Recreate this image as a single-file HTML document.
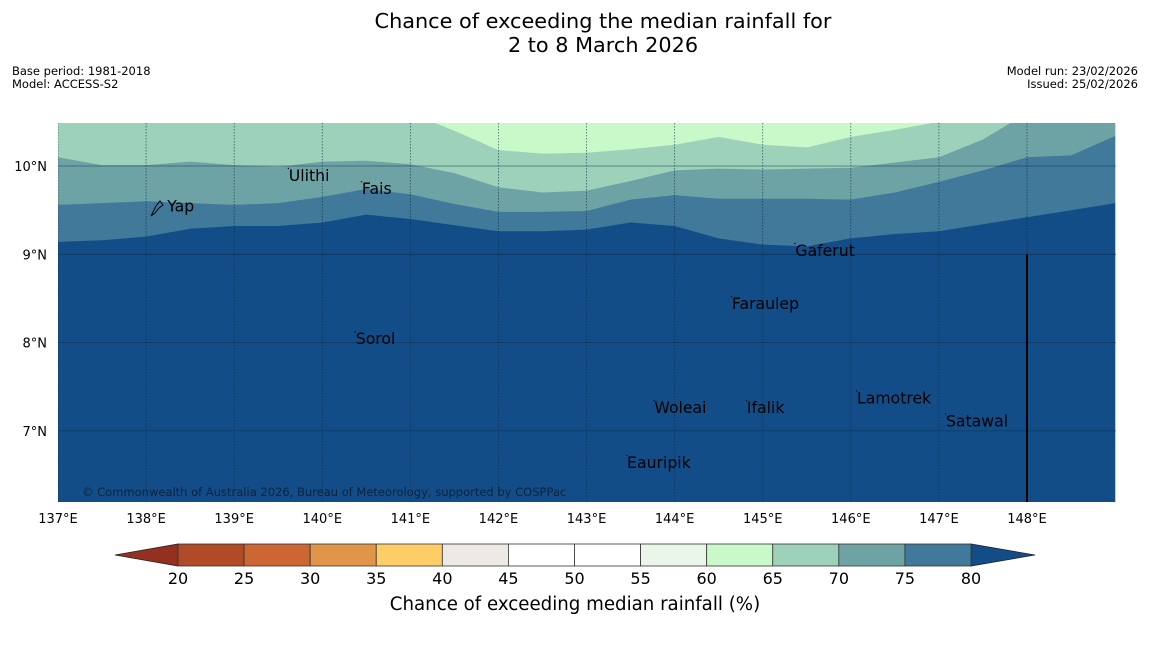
<!DOCTYPE html>
<html><head><meta charset="utf-8"><style>
body{margin:0;background:#fff;width:1150px;height:644px;overflow:hidden;font-family:"DejaVu Sans","Liberation Sans",sans-serif}
svg text{font-family:"DejaVu Sans","Liberation Sans",sans-serif}
</style></head><body>
<svg id="c" width="1150" height="644" viewBox="0 0 1150 644">
<text x="603" y="28" font-size="20.8" text-anchor="middle">Chance of exceeding the median rainfall for</text>
<text x="603" y="52" font-size="20.8" text-anchor="middle">2 to 8 March 2026</text>
<text x="12" y="75" font-size="11.5">Base period: 1981-2018</text>
<text x="12" y="88" font-size="11.5">Model: ACCESS-S2</text>
<text x="1138" y="75" font-size="11.5" text-anchor="end">Model run: 23/02/2026</text>
<text x="1138" y="88" font-size="11.5" text-anchor="end">Issued: 25/02/2026</text>
<g id="map"></g>
<g id="cb"></g>
<text x="575" y="610" font-size="18.2" text-anchor="middle">Chance of exceeding median rainfall (%)</text>
</svg>
<script>
const lons=[137,137.5,138,138.5,139,139.5,140,140.5,141,141.5,142,142.5,143,143.5,144,144.5,145,145.5,146,146.5,147,147.5,148,148.5,149];
const b80=[9.14,9.16,9.20,9.29,9.32,9.32,9.36,9.45,9.40,9.33,9.26,9.26,9.28,9.36,9.32,9.18,9.11,9.09,9.18,9.23,9.26,9.34,9.42,9.50,9.58];
const b75=[9.56,9.58,9.60,9.58,9.56,9.58,9.65,9.74,9.68,9.57,9.48,9.48,9.49,9.62,9.67,9.63,9.63,9.63,9.62,9.70,9.82,9.95,10.10,10.12,10.34];
const b70=[10.10,10.01,10.01,10.05,10.01,9.99,10.05,10.06,10.02,9.92,9.76,9.70,9.72,9.83,9.95,9.97,9.96,9.97,9.98,10.04,10.10,10.30,10.60,10.60,10.60];
const b65=[10.6,10.6,10.6,10.6,10.6,10.6,10.6,10.6,10.6,10.40,10.18,10.14,10.15,10.19,10.24,10.33,10.24,10.21,10.33,10.41,10.50,10.60,10.60,10.60,10.60];
const levelColors=["#134d87","#41799a","#6ea3a6","#9ed1b9","#c9f9c9"];
const lonTicks=[137,138,139,140,141,142,143,144,145,146,147,148];
const latTicks=[10,9,8,7];
const places=[["Yap",138.24,9.55],["Ulithi",139.62,9.9],["Fais",140.45,9.75],["Gaferut",145.37,9.05],["Faraulep",144.65,8.45],["Sorol",140.38,8.05],["Woleai",143.77,7.27],["Ifalik",144.82,7.27],["Lamotrek",146.07,7.38],["Satawal",147.08,7.12],["Eauripik",143.46,6.65]];
const cbTicks=[20,25,30,35,40,45,50,55,60,65,70,75,80];
const cbColors=["#b04a27","#cc6633","#e09548","#ffcd66","#ede9e4","#ffffff","#ffffff","#eaf6ea","#c9f9c9","#9ed1b9","#6ea3a6","#41799a"];
const NS="http://www.w3.org/2000/svg";
const X0=58,X1=1116,Y0=123,Y1=502;
const xs=l=>58+(l-137)*88.09;
const ys=a=>166+(10-a)*88.3;
function mk(t,at,p){const e=document.createElementNS(NS,t);for(const k in at)e.setAttribute(k,at[k]);p.appendChild(e);return e;}
const map=document.getElementById('map');
const defs=mk('defs',{},map);
const cp=mk('clipPath',{id:'clip'},defs);mk('rect',{x:X0,y:Y0,width:X1-X0,height:Y1-Y0},cp);
const g=mk('g',{'clip-path':'url(#clip)'},map);
const bg=mk('rect',{x:X0,y:Y0,width:X1-X0,height:Y1-Y0,fill:levelColors[4]},g);


function band(bnd,col,name){let d='M'+xs(lons[0])+','+Y1;lons.forEach((l,i)=>{d+=' L'+xs(l).toFixed(1)+','+ys(bnd[i]).toFixed(1);});d+=' L'+xs(lons[lons.length-1])+','+Y1+' Z';const p=mk('path',{d:d,fill:col},g);

}
band(b65,levelColors[3],'band-65-70');
band(b70,levelColors[2],'band-70-75');
band(b75,levelColors[1],'band-75-80');
band(b80,levelColors[0],'band-above-80');
lonTicks.forEach(l=>{const x=xs(l);const ln=mk('line',{x1:x,y1:Y0,x2:x,y2:Y1,stroke:'#0b2a45','stroke-width':0.8,'stroke-dasharray':'1.5,1.5','stroke-opacity':0.7},g);


const t=mk('text',{x:x,y:523,'font-size':13,'text-anchor':'middle'},map);t.textContent=l+'°E';

});
latTicks.forEach(a=>{const y=ys(a);const ln=mk('line',{x1:X0,y1:y,x2:X1,y2:y,stroke:'#0b2a45','stroke-width':0.8,'stroke-opacity':0.6},g);


const t=mk('text',{x:47,y:y+5,'font-size':13,'text-anchor':'end'},map);t.textContent=a+'°N';

});
const vl=mk('line',{x1:xs(148),y1:ys(9),x2:xs(148),y2:Y1,stroke:'#000','stroke-width':2},g);


const yp=mk('path',{d:'M151,216 L156,206 L160,201 L163,205 L159,208 L155,213 Z',fill:'none',stroke:'#000','stroke-width':1},g);


places.forEach(p=>{const x=xs(p[1]),y=ys(p[2]);const t=mk('text',{x:x,y:y+6,'font-size':15.7},g);t.textContent=p[0];


if(p[0]!=='Yap'){const d=mk('rect',{x:x-1,y:y-7,width:1.2,height:1.2,fill:'#000'},g);

}});
const cr=mk('text',{x:82,y:496,'font-size':11.5,fill:'#0b2240'},g);cr.textContent='© Commonwealth of Australia 2026, Bureau of Meteorology, supported by COSPPac';


const cb=document.getElementById('cb');
const cx0=178,cx1=971,cy0=544,cy1=566;const sw=(cx1-cx0)/cbColors.length;
const lt=mk('polygon',{points:`115,555 ${cx0},${cy0} ${cx0},${cy1}`,fill:'#93301f',stroke:'#222','stroke-width':0.8},cb);


const rt=mk('polygon',{points:`1035,555 ${cx1},${cy0} ${cx1},${cy1}`,fill:'#134d87',stroke:'#222','stroke-width':0.8},cb);


cbColors.forEach((c,i)=>{const r=mk('rect',{x:cx0+i*sw,y:cy0,width:sw,height:cy1-cy0,fill:c,stroke:'#333','stroke-width':0.8},cb);

});
cbTicks.forEach((v,i)=>{const t=mk('text',{x:cx0+i*sw,y:584,'font-size':16,'text-anchor':'middle'},cb);t.textContent=v;

});
</script>
</body></html>
